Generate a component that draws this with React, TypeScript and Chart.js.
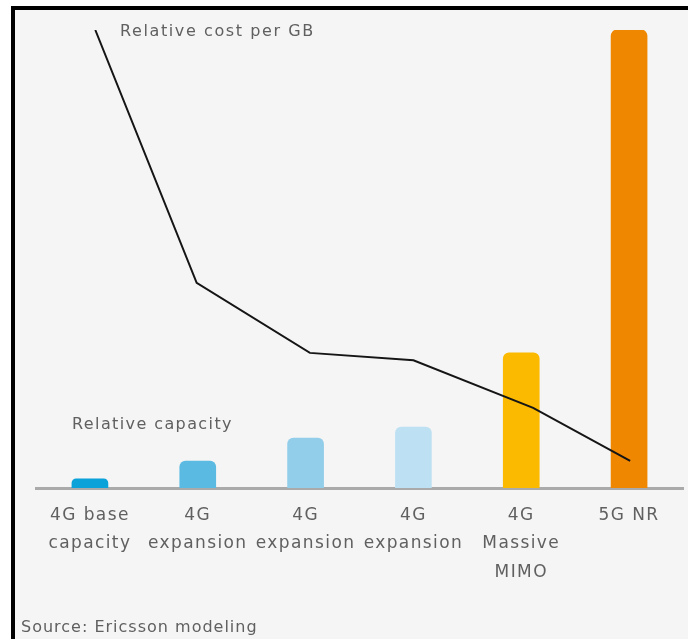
import React, { useEffect, useRef } from "react";
import { Chart, registerables } from "chart.js";

Chart.register(...registerables);

const categories: (string | string[])[] = [
  ["4G base", "capacity"],
  ["4G", "expansion"],
  ["4G", "expansion"],
  ["4G", "expansion"],
  ["4G", "Massive", "MIMO"],
  "5G NR",
];
const capacityValues = [2, 5.9, 10.9, 13.3, 29.5, 100];
const costPositions = [0.05, 0.99, 2.04, 3.0, 4.11, 5.01];
const costValues = [100, 44.8, 29.5, 27.9, 17.5, 5.9];
const barColors = ["#0aa2d9", "#5bbae2", "#92cdea", "#bde1f3", "#fbba00", "#f08700"];

const costLabel = "Relative cost per GB";
const capacityLabel = "Relative capacity";
const sourceNote = "Source: Ericsson modeling";

const FONT = '"DejaVu Sans", Verdana, sans-serif';
const TEXT_COLOR = "#606060";

const textPlugin = {
  id: "annotTexts",
  beforeDraw(chart: any) {
    (chart.ctx as any).letterSpacing = "1.4px";
  },
  afterDraw(chart: any) {
    const ctx = chart.ctx as any;
    ctx.save();
    ctx.fillStyle = TEXT_COLOR;
    ctx.font = `16px ${FONT}`;
    ctx.textAlign = "left";
    ctx.textBaseline = "alphabetic";
    ctx.letterSpacing = "1.6px";
    ctx.fillText(costLabel, 120, 36);
    ctx.letterSpacing = "1.4px";
    ctx.fillText(capacityLabel, 72, 429);
    ctx.letterSpacing = "1px";
    ctx.fillText(sourceNote, 21, 632);
    ctx.restore();
  },
};

export default function App() {
  const canvasRef = useRef<HTMLCanvasElement | null>(null);

  useEffect(() => {
    if (!canvasRef.current) return;
    const chart = new Chart(canvasRef.current, {
      type: "bar",
      data: {
        labels: categories as any,
        datasets: [
          {
            type: "line",
            label: costLabel,
            data: costPositions.map((x, i) => ({ x, y: costValues[i] })),
            xAxisID: "x2",
            yAxisID: "y",
            borderColor: "#151515",
            borderWidth: 2,
            pointRadius: 0,
            tension: 0,
            fill: false,
            order: 0,
          } as any,
          {
            type: "bar",
            label: capacityLabel,
            data: capacityValues,
            xAxisID: "x",
            yAxisID: "y",
            backgroundColor: barColors,
            barThickness: 36,
            grouped: false,
            borderRadius: { topLeft: 6, topRight: 6, bottomLeft: 0, bottomRight: 0 },
            borderSkipped: "bottom",
            order: 1,
          } as any,
        ],
      },
      options: {
        responsive: false,
        animation: false,
        layout: { padding: { left: 36, right: 5, top: 30, bottom: 0 } },
        plugins: {
          legend: { display: false },
          tooltip: { enabled: false },
          title: { display: false },
        },
        scales: {
          x: {
            type: "category",
            offset: true,
            grid: { display: false, drawTicks: false },
            border: { display: true, color: "#aaaaaa", width: 3 },
            ticks: {
              color: TEXT_COLOR,
              font: { family: FONT, size: 17, lineHeight: 1.65 },
              padding: 14,
              autoSkip: false,
              maxRotation: 0,
              minRotation: 0,
            },
            afterFit: (scale: any) => {
              scale.height = 151;
            },
          },
          x2: {
            type: "linear",
            display: false,
            offset: false,
            grace: 0,
            min: -0.5,
            max: 5.5,
          },
          y: {
            type: "linear",
            display: false,
            min: 0,
            max: 100,
          },
        },
      },
      plugins: [textPlugin],
    });
    return () => chart.destroy();
  }, []);

  return (
    <div style={{ position: "absolute", left: 0, top: 0, width: 688, height: 639, background: "#ffffff", overflow: "hidden" }}>
      <div
        style={{
          position: "absolute",
          left: 11,
          top: 6,
          right: 0,
          bottom: 0,
          borderLeft: "4px solid #000",
          borderTop: "4px solid #000",
          background: "#f5f5f5",
        }}
      />
      <canvas ref={canvasRef} width={688} height={639} style={{ position: "absolute", left: 0, top: 0 }} />
    </div>
  );
}
